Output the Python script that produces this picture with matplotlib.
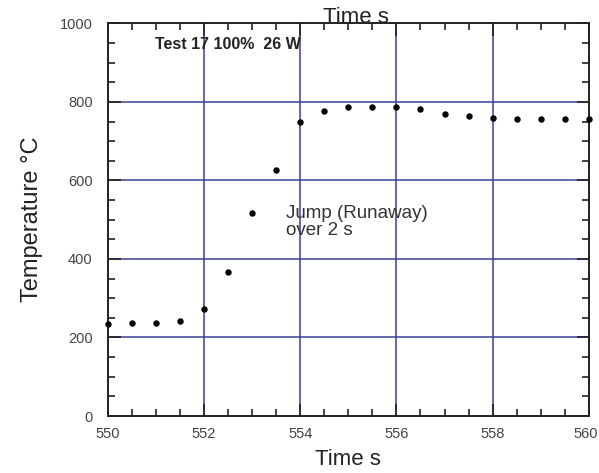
import numpy as np
import matplotlib.pyplot as plt
import matplotlib.transforms as mtransforms
from matplotlib.ticker import MultipleLocator

plt.rcParams['font.family'] = ['Liberation Sans', 'DejaVu Sans']

# Temperature record around the runaway, one reading every 0.5 s
time_s = [550.0, 550.5, 551.0, 551.5, 552.0, 552.5, 553.0, 553.5, 554.0, 554.5,
          555.0, 555.5, 556.0, 556.5, 557.0, 557.5, 558.0, 558.5, 559.0, 559.5, 560.0]
temp_c = [234, 237, 237, 241, 273, 367, 516, 626, 748, 778,
          786, 786, 786, 781, 768, 763, 758, 757, 757, 757, 757]

x_ticks = [550, 552, 554, 556, 558, 560]
y_ticks = [0, 200, 400, 600, 800, 1000]

fig = plt.figure(figsize=(5.99, 4.73), dpi=100)
ax = fig.add_axes([0.180, 0.1205, 0.803, 0.830])

grid_col = '#3c3f98'
for xv in x_ticks[1:-1]:
    ax.axvline(xv, color=grid_col, lw=1.1, zorder=1)
for yv in y_ticks[1:-1]:
    ax.axhline(yv, color=grid_col, lw=1.1, zorder=1)

ax.plot(time_s, temp_c, 'o', color='black', markersize=3.6, clip_on=False, zorder=3)

ax.set_xlim(550, 560)
ax.set_ylim(0, 1000)
ax.set_xticks(x_ticks)
ax.set_yticks(y_ticks)
ax.xaxis.set_minor_locator(MultipleLocator(0.5))
ax.yaxis.set_minor_locator(MultipleLocator(50))
ax.tick_params(which='both', direction='in', top=True, right=True, color='#222222',
               labelcolor='#444444', labelsize=10.5, width=1.2)
ax.tick_params(which='major', length=9)
ax.tick_params(which='minor', length=5)
ax.tick_params(axis='x', which='major', pad=8)
ax.tick_params(axis='y', which='major', pad=11)
for sp in ax.spines.values():
    sp.set_linewidth(1.4)
    sp.set_color('#222222')

# pull the last x label in a little so it stays inside the figure
last = ax.get_xticklabels()[-1]
last.set_transform(last.get_transform() +
                   mtransforms.ScaledTranslation(-3 / 100, 0, fig.dpi_scale_trans))

ax.set_xlabel('Time s', fontsize=16, color='#222222', labelpad=6)
ax.set_ylabel('Temperature °C', fontsize=17, color='#222222', labelpad=12)
ax.annotate('Time s', xy=(0.516, 1.0), xycoords='axes fraction', xytext=(0, 4),
            textcoords='offset points', ha='center', va='center',
            fontsize=16, color='#222222')

ax.text(550.98, 946, 'Test 17 100%  26 W', fontsize=11.5, fontweight='bold',
        color='#222222', va='center')
ax.text(553.70, 537, 'Jump (Runaway)\nover 2 s', fontsize=13.5, color='#333333',
        va='top', linespacing=0.95)

fig.savefig('out.png', dpi=100)
